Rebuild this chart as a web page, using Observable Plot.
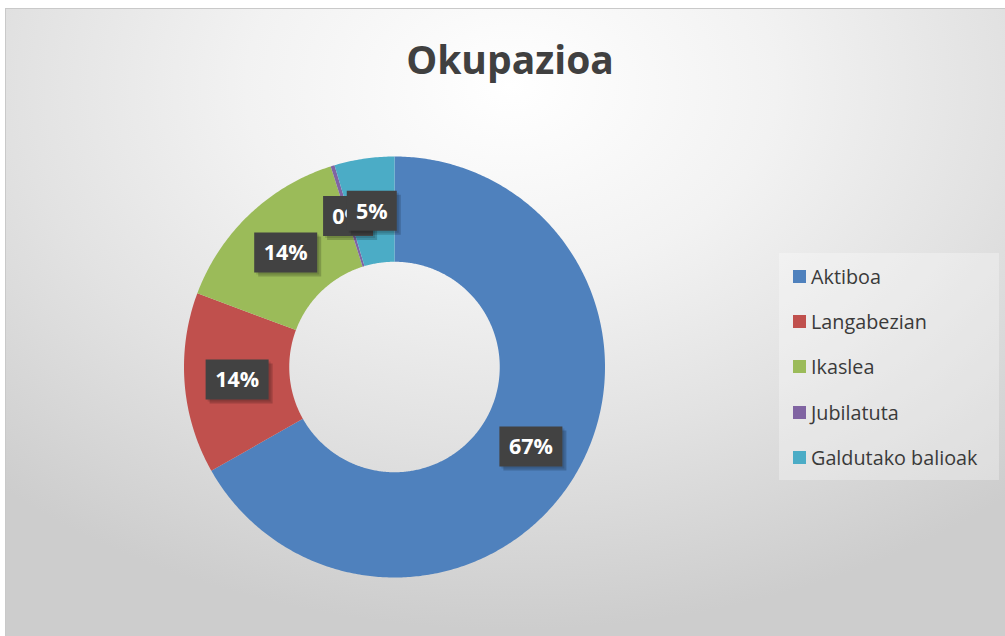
<!DOCTYPE html>
<html>
<head>
<meta charset="utf-8">
<script src="https://cdn.jsdelivr.net/npm/d3@7"></script>
<script src="https://cdn.jsdelivr.net/npm/@observablehq/plot@0.6"></script>
<style>
  html, body { margin: 0; padding: 0; background: #ffffff; }
  #chart { position: relative; width: 1005px; height: 636px; overflow: hidden; background: #ffffff; font-family: "Open Sans", "DejaVu Sans", sans-serif; }
  #frame { position: absolute; left: 5px; top: 8px; width: 1010px; height: 640px; border: 1px solid #c9c9c9;
    background: radial-gradient(ellipse 75% 85% at 50% 12%, #ffffff 0%, #f2f2f2 35%, #e2e2e2 65%, #cdcdcd 100%); }
  #title { position: absolute; left: 310px; width: 400px; top: 40px; text-align: center; font-size: 39px; line-height: 38px; font-weight: 700; color: #404040; }
  #plot { position: absolute; left: 0; top: 0; }
  #legend { position: absolute; left: 779px; top: 253px; width: 220px; height: 227px; background: rgba(255,255,255,0.3); }
  .item { position: absolute; left: 14px; height: 45px; display: flex; align-items: center; font-size: 19.8px; color: #3a3a3a; white-space: nowrap; }
  .sw { width: 13px; height: 13px; margin-right: 5px; flex: none; }
</style>
</head>
<body>
<div id="chart">
  <div id="frame"></div>
  <div id="title">Okupazioa</div>
  <div id="plot"></div>
  <div id="legend"></div>
</div>
<script>
// ---- data ----
const categories = ["Aktiboa", "Langabezian", "Ikaslea", "Jubilatuta", "Galdutako balioak"];
const values = [66.8, 13.9, 14.4, 0.3, 4.6];
const colors = ["#4f81bd", "#c0504d", "#9bbb59", "#8064a2", "#4bacc6"];
const titleText = "Okupazioa";

// ---- derived geometry (data space: unit circle, y up) ----
const total = d3.sum(values);
const innerR = 0.5, outerR = 1;
let acc = 0;
const slices = categories.map((name, i) => {
  const a0 = acc / total * 2 * Math.PI;
  acc += values[i];
  const a1 = acc / total * 2 * Math.PI;
  const n = Math.max(2, Math.ceil((a1 - a0) / 0.01));
  const outer = d3.range(n + 1).map(k => { const a = a0 + (a1 - a0) * k / n; return [outerR * Math.sin(a), outerR * Math.cos(a)]; });
  const inner = d3.range(n + 1).map(k => { const a = a1 - (a1 - a0) * k / n; return [innerR * Math.sin(a), innerR * Math.cos(a)]; });
  const ring = [...outer, ...inner, outer[0]];
  const am = (a0 + a1) / 2, rm = (innerR + outerR) / 2;
  return {
    name, value: values[i], color: colors[i],
    label: Math.round(values[i] / total * 100) + "%",
    lx: rm * Math.sin(am), ly: rm * Math.cos(am),
    type: "Feature", properties: {name}, geometry: {type: "Polygon", coordinates: [ring]}
  };
});
const domainCircle = {type: "Polygon", coordinates: [d3.range(0, 361, 2).map(d => [Math.sin(d * Math.PI / 180), Math.cos(d * Math.PI / 180)])]};

const boxSymbol = (w, h) => ({draw(ctx) { ctx.rect(-w / 2, -h / 2, w, h); }});
const wide = boxSymbol(63, 40), narrow = boxSymbol(50, 40);

const labelMarks = slices.flatMap(s => {
  const sym = s.label.length >= 3 ? wide : narrow;
  return [
    Plot.dot([s], {x: "lx", y: "ly", symbol: sym, fill: "#000", fillOpacity: 0.18, dx: 4, dy: 4, stroke: "none"}),
    Plot.dot([s], {x: "lx", y: "ly", symbol: sym, fill: "#000", fillOpacity: 0.12, dx: 2, dy: 2, stroke: "none"}),
    Plot.dot([s], {x: "lx", y: "ly", symbol: sym, fill: "#424242", stroke: "none"}),
    Plot.text([s], {x: "lx", y: "ly", text: "label", fill: "#ffffff", fontSize: 21.5, fontWeight: 700, fontFamily: "Open Sans, DejaVu Sans, sans-serif", dy: 1})
  ];
});

const chart = Plot.plot({
  width: 1005,
  height: 636,
  marginTop: 156,
  marginBottom: 59,
  marginLeft: 183.5,
  marginRight: 400.5,
  projection: {type: "reflect-y", domain: domainCircle, inset: 0},
  style: {background: "transparent", overflow: "visible"},
  marks: [
    Plot.geo(slices, {fill: d => d.color, stroke: "none"}),
    ...labelMarks
  ]
});
document.getElementById("plot").appendChild(chart);

// ---- legend ----
const legend = document.getElementById("legend");
categories.forEach((c, i) => {
  const item = document.createElement("div");
  item.className = "item";
  item.style.top = (i * 45.2 + 1) + "px";
  const sw = document.createElement("span");
  sw.className = "sw";
  sw.style.background = colors[i];
  const t = document.createElement("span");
  t.textContent = c;
  item.appendChild(sw); item.appendChild(t);
  legend.appendChild(item);
});
document.getElementById("title").textContent = titleText;
</script>
</body>
</html>
